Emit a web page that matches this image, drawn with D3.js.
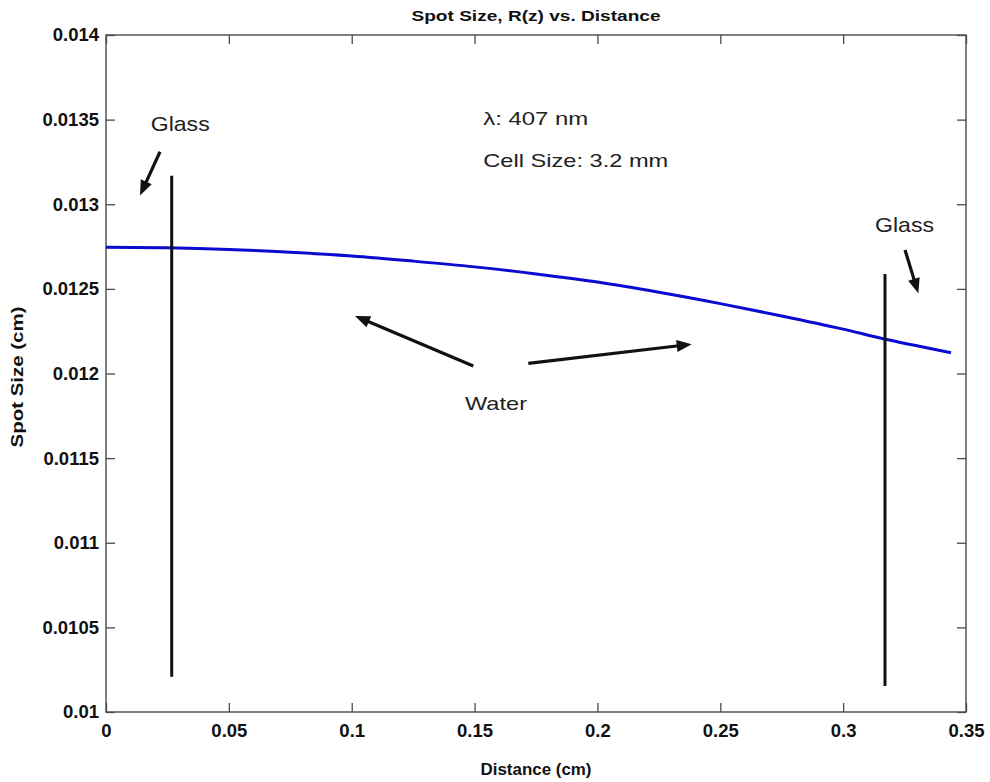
<!DOCTYPE html>
<html>
<head>
<meta charset="utf-8">
<script src="https://cdn.jsdelivr.net/npm/d3@7"></script>
<style>
  body { margin: 0; background: #fff; }
  svg { display: block; font-family: "Liberation Sans", Arial, sans-serif; }
</style>
</head>
<body>
<svg id="chart" width="990" height="782"></svg>
<script>
// ---- data ----
const distance = [0, 0.025, 0.05, 0.075, 0.1, 0.125, 0.15, 0.175, 0.2, 0.225, 0.25, 0.275, 0.3, 0.315, 0.3439];
const spotSize = [0.012746, 0.012743, 0.012733, 0.012716, 0.012694, 0.012664, 0.012630, 0.012588, 0.012540, 0.012480, 0.012413, 0.012340, 0.012262, 0.012210, 0.012123];

const xTickValues = [0, 0.05, 0.1, 0.15, 0.2, 0.25, 0.3, 0.35];
const xTickLabels = ["0", "0.05", "0.1", "0.15", "0.2", "0.25", "0.3", "0.35"];
const yTickValues = [0.01, 0.0105, 0.011, 0.0115, 0.012, 0.0125, 0.013, 0.0135, 0.014];
const yTickLabels = ["0.01", "0.0105", "0.011", "0.0115", "0.012", "0.0125", "0.013", "0.0135", "0.014"];

// glass walls: [x, yBottom, yTop]
const glassWalls = [
  [0.02674, 0.010209, 0.013169],
  [0.31703, 0.010154, 0.012588]
];
// arrows: [x0, y0 (tail), x1, y1 (tip)]
const arrows = [
  [0.02198, 0.013310, 0.013837, 0.013052],
  [0.32518, 0.012730, 0.33059, 0.012474],
  [0.14948, 0.012044, 0.10134, 0.012340],
  [0.17187, 0.012060, 0.23837, 0.012173]
];
// labels: [text, x, y, fontSize, width]
const labels = [
  ["Glass", 0.01819, 0.013433, 21, 59],
  ["Glass", 0.31296, 0.012838, 21, 59],
  ["\u03bb: 407 nm", 0.15355, 0.013468, 19, 105],
  ["Cell Size: 3.2 mm", 0.15355, 0.013218, 19, 185],
  ["Water", 0.14611, 0.011784, 19, 62]
];

const titleText = "Spot Size, R(z) vs. Distance";
const xLabelText = "Distance (cm)";
const yLabelText = "Spot Size (cm)";

// ---- layout ----
const W = 990, H = 782;
const margin = { left: 106, top: 35, right: 24, bottom: 70 };
const iw = W - margin.left - margin.right;
const ih = H - margin.top - margin.bottom;

const svg = d3.select("#chart");
const g = svg.append("g").attr("transform", `translate(${margin.left},${margin.top})`);

const x = d3.scaleLinear().domain([0, 0.35]).range([0, iw]);
const y = d3.scaleLinear().domain([0.01, 0.014]).range([ih, 0]);

const axisColor = "#4a4a4a";
const tickLen = 9;

function styleAxis(sel) {
  sel.select(".domain").remove();
  sel.selectAll(".tick line").attr("stroke", axisColor).attr("stroke-width", 1.3);
  sel.selectAll(".tick text").attr("fill", "#111").attr("font-weight", "bold").attr("font-size", 18.5)
    .attr("font-family", "'Liberation Sans', Arial, sans-serif");
}

g.append("g").attr("transform", `translate(0,${ih})`)
  .call(d3.axisBottom(x).tickValues(xTickValues).tickFormat((d, i) => xTickLabels[i])
    .tickSizeInner(-tickLen).tickSizeOuter(0).tickPadding(12))
  .call(styleAxis);
g.append("g")
  .call(d3.axisTop(x).tickValues(xTickValues).tickFormat("")
    .tickSizeInner(-tickLen).tickSizeOuter(0))
  .call(styleAxis);
g.append("g")
  .call(d3.axisLeft(y).tickValues(yTickValues).tickFormat((d, i) => yTickLabels[i])
    .tickSizeInner(-tickLen).tickSizeOuter(0).tickPadding(7))
  .call(styleAxis);
g.append("g").attr("transform", `translate(${iw},0)`)
  .call(d3.axisRight(y).tickValues(yTickValues).tickFormat("")
    .tickSizeInner(-tickLen).tickSizeOuter(0))
  .call(styleAxis);

// box
g.append("rect").attr("x", 0).attr("y", 0).attr("width", iw).attr("height", ih)
  .attr("fill", "none").attr("stroke", axisColor).attr("stroke-width", 1.4);

// curve
const line = d3.line().x((d, i) => x(distance[i])).y((d, i) => y(spotSize[i])).curve(d3.curveCatmullRom);
g.append("path").datum(spotSize).attr("d", line)
  .attr("fill", "none").attr("stroke", "#0a0ad0").attr("stroke-width", 3);

// glass walls
g.selectAll(".wall").data(glassWalls).join("line")
  .attr("x1", d => x(d[0])).attr("x2", d => x(d[0]))
  .attr("y1", d => y(d[1])).attr("y2", d => y(d[2]))
  .attr("stroke", "#111").attr("stroke-width", 3);

// arrows
const headLen = 15, headHalf = 6;
arrows.forEach(a => {
  const x0 = x(a[0]), y0 = y(a[1]), x1 = x(a[2]), y1 = y(a[3]);
  const dx = x1 - x0, dy = y1 - y0, L = Math.hypot(dx, dy);
  const ux = dx / L, uy = dy / L;
  const bx = x1 - ux * headLen, by = y1 - uy * headLen;
  g.append("line").attr("x1", x0).attr("y1", y0).attr("x2", bx + ux * 2).attr("y2", by + uy * 2)
    .attr("stroke", "#111").attr("stroke-width", 3.2);
  const pts = [[x1, y1], [bx - uy * headHalf, by + ux * headHalf], [bx + uy * headHalf, by - ux * headHalf]];
  g.append("polygon").attr("points", pts.map(p => p.join(",")).join(" ")).attr("fill", "#111");
});

// text labels
g.selectAll(".lbl").data(labels).join("text")
  .attr("x", d => x(d[1])).attr("y", d => y(d[2]))
  .attr("font-size", d => d[3])
  .attr("textLength", d => d[4]).attr("lengthAdjust", "spacingAndGlyphs")
  .attr("fill", "#222")
  .text(d => d[0]);

// title
svg.append("text").attr("x", margin.left + iw / 2).attr("y", 21)
  .attr("text-anchor", "middle").attr("font-weight", "bold").attr("font-size", 15.5)
  .attr("textLength", 249).attr("lengthAdjust", "spacingAndGlyphs")
  .attr("fill", "#111").text(titleText);

// x label
svg.append("text").attr("x", margin.left + iw / 2).attr("y", 775)
  .attr("text-anchor", "middle").attr("font-weight", "bold").attr("font-size", 16.5)
  .attr("textLength", 111).attr("lengthAdjust", "spacingAndGlyphs")
  .attr("fill", "#111").text(xLabelText);

// y label
svg.append("text").attr("transform", `translate(23,377) rotate(-90)`)
  .attr("text-anchor", "middle").attr("font-weight", "bold").attr("font-size", 17)
  .attr("textLength", 141).attr("lengthAdjust", "spacingAndGlyphs")
  .attr("fill", "#111").text(yLabelText);
</script>
</body>
</html>
